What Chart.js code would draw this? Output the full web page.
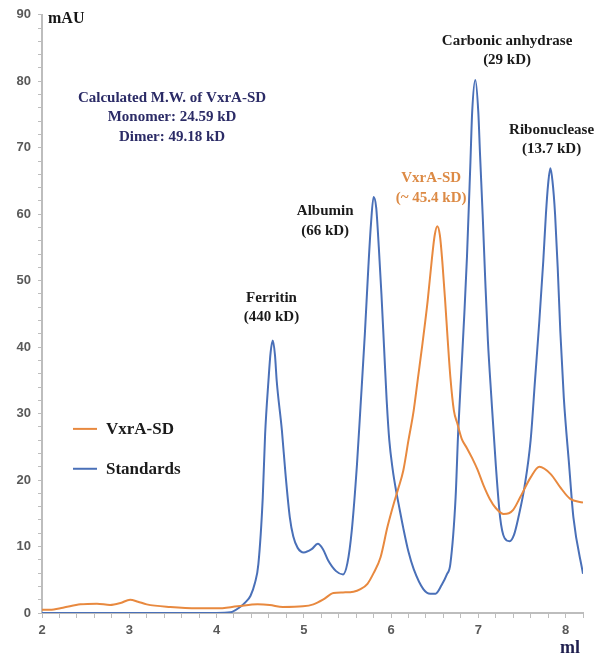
<!DOCTYPE html>
<html>
<head>
<meta charset="utf-8">
<script src="https://cdn.jsdelivr.net/npm/chart.js@4.4.0/dist/chart.umd.min.js"></script>
<style>
  html, body { margin: 0; padding: 0; background: #ffffff; }
  #wrap { width: 600px; height: 657px; }
</style>
</head>
<body>
<div id="wrap"><canvas id="c" width="600" height="657"></canvas></div>
<script>
// ---- Data ----
const seriesNames = ['VxrA-SD', 'Standards'];

const vxraX = [2.0, 2.09, 2.24, 2.44, 2.63, 2.78, 2.9, 3.01, 3.1, 3.2, 3.47, 3.78, 4.0, 4.24, 4.47, 4.61, 4.76, 4.99, 5.11, 5.22, 5.34, 5.45, 5.57, 5.65, 5.73, 5.80, 5.88, 5.96, 6.03, 6.08, 6.14, 6.20, 6.26, 6.31, 6.36, 6.42, 6.47, 6.50, 6.53, 6.56, 6.59, 6.62, 6.65, 6.68, 6.72, 6.76, 6.81, 6.87, 6.93, 6.99, 7.06, 7.13, 7.20, 7.29, 7.35, 7.40, 7.48, 7.60, 7.70, 7.83, 7.94, 8.05, 8.2];
const vxraY = [0.5, 0.5, 0.8, 1.3, 1.4, 1.2, 1.5, 2.0, 1.7, 1.3, 0.9, 0.7, 0.7, 1.0, 1.3, 1.2, 0.9, 1.0, 1.3, 2.0, 3.0, 3.1, 3.2, 3.6, 4.4, 6.0, 8.4, 13.0, 16.4, 18.6, 21.4, 26.0, 30.5, 35.5, 40.5, 47.0, 53.5, 56.8, 58.2, 56.8, 52.5, 47.0, 41.0, 35.5, 30.5, 28.5, 26.2, 24.8, 23.3, 21.6, 19.2, 17.2, 15.8, 14.9, 15.0, 15.5, 17.4, 20.4, 22.0, 20.9, 18.9, 17.2, 16.6];

const standardsX = [2.0, 3.0, 4.0, 4.16, 4.27, 4.33, 4.39, 4.44, 4.48, 4.53, 4.557, 4.595, 4.62, 4.645, 4.67, 4.69, 4.749, 4.79, 4.84, 4.88, 4.93, 5.00, 5.09, 5.16, 5.22, 5.28, 5.37, 5.45, 5.50, 5.55, 5.61, 5.65, 5.70, 5.74, 5.77, 5.80, 5.83, 5.86, 5.89, 5.92, 5.95, 5.98, 6.02, 6.05, 6.10, 6.14, 6.20, 6.26, 6.37, 6.45, 6.51, 6.58, 6.64, 6.68, 6.74, 6.77, 6.81, 6.84, 6.87, 6.91, 6.93, 6.966, 7.00, 7.02, 7.05, 7.08, 7.11, 7.15, 7.20, 7.25, 7.30, 7.36, 7.41, 7.46, 7.53, 7.60, 7.65, 7.70, 7.745, 7.775, 7.80, 7.826, 7.85, 7.88, 7.91, 7.94, 7.98, 8.04, 8.09, 8.2];
const standardsY = [0, 0, 0, 0.1, 0.9, 1.6, 2.6, 4.5, 7.4, 17.4, 26.9, 34.9, 39.2, 41.0, 38.8, 34.9, 27.5, 21.0, 14.4, 11.5, 9.8, 9.1, 9.6, 10.4, 9.6, 7.9, 6.3, 5.8, 7.5, 12.4, 22.4, 31.0, 42.0, 52.0, 58.5, 62.6, 61.0, 55.0, 48.0, 40.0, 32.0, 26.0, 21.5, 19.0, 15.5, 12.8, 9.2, 6.6, 3.6, 2.9, 2.9, 4.2, 5.8, 7.4, 17.4, 27.4, 37.4, 45.0, 53.5, 67.9, 75.4, 80.2, 75.4, 69.0, 60.0, 50.0, 41.0, 32.4, 22.4, 14.4, 11.3, 10.8, 11.8, 14.4, 19.0, 26.0, 35.0, 44.0, 53.0, 60.0, 64.5, 66.9, 65.0, 60.0, 52.0, 42.4, 32.4, 22.4, 14.4, 5.9];

const xTickLabels = [2, 3, 4, 5, 6, 7, 8];
const yTickLabels = [0, 10, 20, 30, 40, 50, 60, 70, 80, 90];

// Peak / note labels (text and anchor in data units)
const noteTexts = [
  ['Calculated M.W. of VxrA-SD', 'Monomer: 24.59 kD', 'Dimer: 49.18 kD'],
  ['Ferritin', '(440 kD)'],
  ['Albumin', '(66 kD)'],
  ['VxrA-SD', '(~ 45.4 kD)'],
  ['Carbonic anhydrase', '(29 kD)'],
  ['Ribonuclease', '(13.7 kD)']
];
const noteAnchorX = [3.49, 4.63, 5.245, 6.46, 7.33, 7.84];
const noteAnchorY = [77.5, 47.4, 60.4, 65.4, 86.1, 72.7];

// ---- Styles ----
const COLORS = { vxra: '#E8893F', std: '#4A70B8' };
const noteColors = ['#2B2B66', '#1a1a1a', '#1a1a1a', '#DC8A45', '#1a1a1a', '#1a1a1a'];
const SERIF = '"Liberation Serif", "Times New Roman", serif';

function pts(xs, ys) { return xs.map((x, i) => ({ x: x, y: ys[i] })); }

const overlay = {
  id: 'overlay',
  afterDraw(chart) {
    const ctx = chart.ctx;
    const xs = chart.scales.x, ys = chart.scales.y;
    ctx.save();
    // Peak notes
    ctx.textAlign = 'center';
    ctx.textBaseline = 'middle';
    ctx.font = 'bold 15px ' + SERIF;
    noteTexts.forEach((lines, i) => {
      const cx = xs.getPixelForValue(noteAnchorX[i]);
      const cy = ys.getPixelForValue(noteAnchorY[i]);
      ctx.fillStyle = noteColors[i];
      lines.forEach((t, j) => ctx.fillText(t, cx, cy + j * 19.5));
    });
    // Axis titles
    ctx.textAlign = 'left';
    ctx.fillStyle = '#151515';
    ctx.font = 'bold 16px ' + SERIF;
    ctx.fillText('mAU', chart.chartArea.left + 6, chart.chartArea.top + 4);
    ctx.textAlign = 'center';
    ctx.fillStyle = '#1F1F4F';
    ctx.font = 'bold 18px ' + SERIF;
    ctx.fillText('ml', xs.getPixelForValue(8.05), chart.chartArea.bottom + 35);
    // Legend
    const legendY = [ys.getPixelForValue(27.7), ys.getPixelForValue(21.7)];
    const lx = chart.chartArea.left + 31;
    chart.data.datasets.forEach((ds, i) => {
      ctx.strokeStyle = ds.borderColor;
      ctx.lineWidth = 2;
      ctx.beginPath();
      ctx.moveTo(lx, legendY[i]);
      ctx.lineTo(lx + 24, legendY[i]);
      ctx.stroke();
      ctx.fillStyle = '#1a1a1a';
      ctx.textAlign = 'left';
      ctx.font = 'bold 17px ' + SERIF;
      ctx.fillText(ds.label, lx + 33, legendY[i] + 1);
    });
    ctx.restore();
  }
};

new Chart(document.getElementById('c'), {
  type: 'line',
  data: {
    datasets: [
      { label: seriesNames[0], data: pts(vxraX, vxraY), borderColor: COLORS.vxra, borderWidth: 2, pointRadius: 0, fill: false, cubicInterpolationMode: 'monotone' },
      { label: seriesNames[1], data: pts(standardsX, standardsY), borderColor: COLORS.std, borderWidth: 2, pointRadius: 0, fill: false, cubicInterpolationMode: 'monotone' }
    ]
  },
  options: {
    responsive: false,
    animation: false,
    devicePixelRatio: 1,
    layout: { padding: { left: 0, top: 13, right: 17, bottom: 0 } },
    plugins: { legend: { display: false }, tooltip: { enabled: false } },
    scales: {
      x: {
        type: 'linear',
        min: 2, max: 8.2,
        afterFit(scale) { scale.height = 44; },
        border: { display: true, color: '#BDBDBD', width: 2 },
        grid: { display: true, drawOnChartArea: false, drawTicks: true, tickLength: 5, color: '#BDBDBD' },
        ticks: {
          stepSize: 0.2, autoSkip: false, maxRotation: 0, padding: 5,
          color: '#595959',
          font: { family: '"Liberation Sans", Arial, sans-serif', size: 13, weight: 'bold' },
          callback(v) {
            const r = Math.round(v * 1000) / 1000;
            return xTickLabels.includes(r) ? String(r) : '';
          }
        }
      },
      y: {
        type: 'linear',
        min: 0, max: 90,
        afterFit(scale) { scale.width = 42; },
        border: { display: true, color: '#BDBDBD', width: 2 },
        grid: { display: true, drawOnChartArea: false, drawTicks: true, tickLength: 4, color: '#BDBDBD' },
        ticks: {
          stepSize: 2, autoSkip: false, padding: 7,
          color: '#595959',
          font: { family: '"Liberation Sans", Arial, sans-serif', size: 13, weight: 'bold' },
          callback(v) {
            const r = Math.round(v * 1000) / 1000;
            return yTickLabels.includes(r) ? String(r) : '';
          }
        }
      }
    }
  },
  plugins: [overlay]
});
</script>
</body>
</html>
